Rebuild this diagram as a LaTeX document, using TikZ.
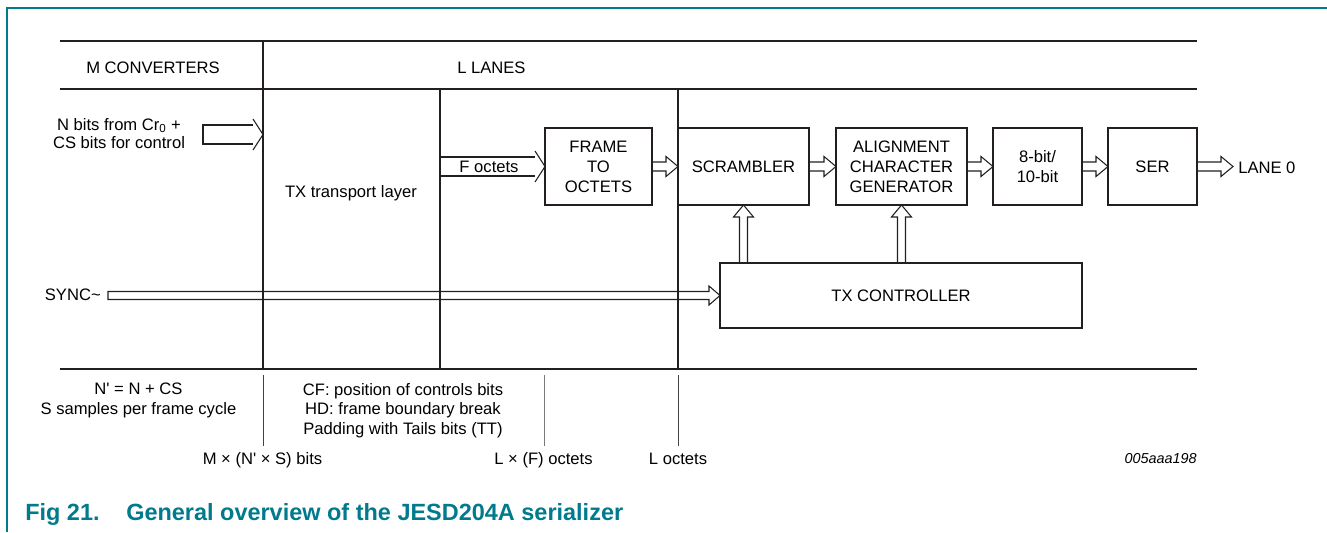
\documentclass[tikz,border=0pt]{standalone}
\usepackage{fontspec}
\setmainfont{Liberation Sans}[Ligatures=TeXOff]
\usepackage{tikz}
\usetikzlibrary{positioning,calc}
\definecolor{nxpteal}{RGB}{0,122,140}
\definecolor{ink}{RGB}{35,31,32}
\newcommand{\diagfont}{\fontsize{12.45}{15}\selectfont}
\newcommand{\flowright}[2]{\draw[flow] ($(#1)+(0,-4.5)$) -- ($(#2)+(-12,-4.5)$) -- ($(#2)+(-12,-10)$) -- (#2) -- ($(#2)+(-12,10)$) -- ($(#2)+(-12,4.5)$) -- ($(#1)+(0,4.5)$);}
\newcommand{\flowup}[2]{\draw[flow] ($(#1)+(-4,0)$) -- ($(#2)+(-4,12)$) -- ($(#2)+(-10,12)$) -- (#2) -- ($(#2)+(10,12)$) -- ($(#2)+(4,12)$) -- ($(#1)+(4,0)$);}
\tikzset{
  rule/.style={draw=ink, line width=1.9pt},
  divider/.style={draw=ink, line width=1.5pt},
  tick/.style={draw=ink!85, line width=0.75pt},
  block/.style={draw=ink, line width=1.5pt, outer sep=0pt, inner sep=0pt, minimum height=57.75pt, align=center, font=\diagfont},
  flow/.style={draw=ink, line width=0.8pt, line join=miter},
  lbl/.style={font=\diagfont, inner sep=0pt, align=center, anchor=base},
}
\begin{document}
\begin{tikzpicture}[x=0.75pt, y=-0.75pt]
\useasboundingbox (0,0) rectangle (1327,532);
\draw[nxpteal, line width=1pt] (7,532) -- (7,8) -- (1327,8);

\draw[rule] (60,41) -- (1197,41);
\draw[rule] (60,89) -- (1197,89);
\draw[rule] (60,369) -- (1197,369);
\draw[divider] (263,41) -- (263,369);
\draw[divider] (440,89) -- (440,369);
\draw[divider] (678,89) -- (678,369);
\draw[tick] (263,375) -- (263,446);
\draw[tick, draw=ink!60] (544,375) -- (544,446);
\draw[tick] (678,375) -- (678,446);

\node[lbl] (conv) at (153,73) {M CONVERTERS};
\node[lbl, anchor=base west] (lanes) at (457,73) {L LANES};
\node[lbl] (nbits) at (119,148) {N bits from Cr\textsubscript{0} +\\[-1.5pt]CS bits for control};
\node[lbl] (transport) at (351,197) {TX transport layer};
\node[lbl] (foct) at (489,172.5) {F octets};
\node[lbl, anchor=base east] (sync) at (101,300) {SYNC\textasciitilde};

\node[block, minimum width=80.25pt] (frame_oct) at (598.5,166.5) {FRAME\\TO\\OCTETS};
\node[block, minimum width=98.25pt, right=19.5pt of frame_oct] (scram) {SCRAMBLER};
\node[block, minimum width=98.25pt, right=20.25pt of scram] (acg) {ALIGNMENT\\CHARACTER\\GENERATOR};
\node[block, minimum width=66.75pt, right=19.5pt of acg] (enc) {8-bit/\\10-bit};
\node[block, minimum width=66.75pt, right=19.5pt of enc] (ser) {SER};
\node[block, minimum width=271.5pt, minimum height=48.75pt] (txctl) at (901,295.5) {TX CONTROLLER};

\coordinate (nbits_tail) at (203,134.5);
\coordinate (nbits_tip) at (263,134.5);
\coordinate (foct_tail) at (440,166.5);
\coordinate (sync_tail) at (108,295.5);
\coordinate (lane_tip) at (1233,166.5);
\node[lbl, anchor=base west] (lane) at (1238,173) {LANE 0};

\draw[flow] ($(nbits_tip)+(-10,-9.5)$) -- ($(nbits_tail)+(0,-9.5)$) -- ($(nbits_tail)+(0,9.5)$) -- ($(nbits_tip)+(-10,9.5)$);
\draw[flow] ($(nbits_tip)+(-10,-15.5)$) -- (nbits_tip) -- ($(nbits_tip)+(-10,15.5)$);
\draw[flow] ($(foct_tail)+(0,-9.5)$) -- ($(frame_oct.west)+(-10,-9.5)$);
\draw[flow] ($(foct_tail)+(0,9.5)$) -- ($(frame_oct.west)+(-10,9.5)$);
\draw[flow] ($(frame_oct.west)+(-10,-15.5)$) -- (frame_oct.west) -- ($(frame_oct.west)+(-10,15.5)$);

\flowright{frame_oct.east}{scram.west}
\flowright{scram.east}{acg.west}
\flowright{acg.east}{enc.west}
\flowright{enc.east}{ser.west}
\flowright{ser.east}{lane_tip}
\flowup{scram.south |- txctl.north}{scram.south}
\flowup{acg.south |- txctl.north}{acg.south}
\draw[flow] ($(sync_tail)+(0,-4)$) -- ($(txctl.west)+(-11,-4)$) -- ($(txctl.west)+(-11,-9.5)$) -- (txctl.west) -- ($(txctl.west)+(-11,9.5)$) -- ($(txctl.west)+(-11,4)$) -- ($(sync_tail)+(0,4)$) -- cycle;

\node[lbl] (conv_note) at (138.5,414) {N' = N + CS\\[-0.4pt]S samples per frame cycle};
\node[lbl] (tl_note) at (403,434) {CF: position of controls bits\\[-0.4pt]HD: frame boundary break\\[-0.4pt]Padding with Tails bits (TT)};
\node[lbl] (bits) at (262.5,464) {M × (N' × S) bits};
\node[lbl] (loct_f) at (543.5,464) {L × (F) octets};
\node[lbl] (loct) at (678,464) {L octets};
\node[lbl, anchor=base east, font=\fontsize{10.8}{13}\selectfont\itshape] (figid) at (1197,463) {005aaa198};
\node[anchor=base west, inner sep=0pt, text=nxpteal, font=\fontsize{17.6}{20}\selectfont\bfseries] (caption) at (25,520) {Fig 21.\hspace{20pt}General overview of the JESD204A serializer};
\end{tikzpicture}
\end{document}
